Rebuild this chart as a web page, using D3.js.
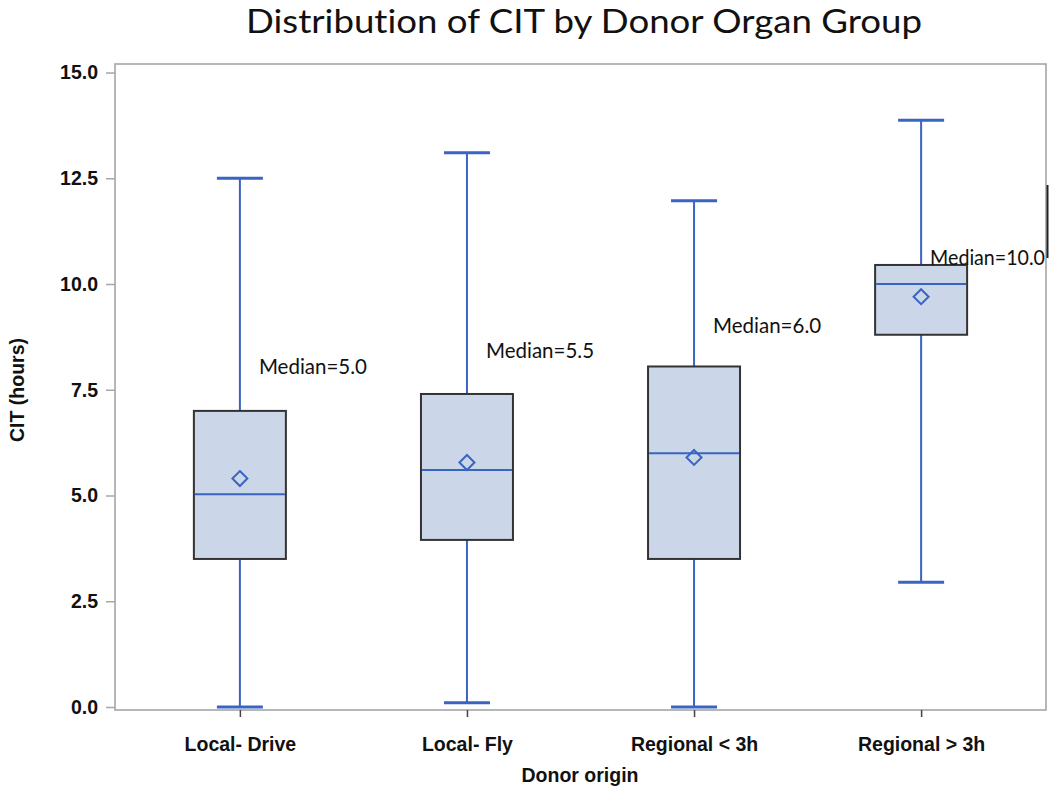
<!DOCTYPE html>
<html>
<head>
<meta charset="utf-8">
<script src="https://cdn.jsdelivr.net/npm/d3@7"></script>
<style>
  html, body { margin: 0; padding: 0; background: #fff; }
  svg { display: block; }
  text { font-variant-ligatures: none; font-feature-settings: "liga" 0; }
</style>
</head>
<body>
<svg id="chart" width="1050" height="791"></svg>
<script>
// ---- data ----
const categories = ["Local- Drive", "Local- Fly", "Regional < 3h", "Regional > 3h"];
const whiskerMin = [0.0, 0.1, 0.0, 2.95];
const q1Values = [3.5, 3.95, 3.5, 8.8];
const medianValues = [5.03, 5.6, 6.0, 10.0];
const q3Values = [7.0, 7.4, 8.05, 10.45];
const whiskerMax = [12.5, 13.1, 11.97, 13.87];
const meanValues = [5.4, 5.78, 5.9, 9.7];
const medianLabels = ["Median=5.0", "Median=5.5", "Median=6.0", "Median=10.0"];
const labelYValues = [8.06, 8.44, 9.03, 10.64];
const yTicks = [0, 2.5, 5, 7.5, 10, 12.5, 15];

const title = "Distribution of CIT by Donor Organ Group";
const xTitle = "Donor origin";
const yTitle = "CIT (hours)";

// ---- layout ----
const svg = d3.select("#chart");
const frame = { left: 115, right: 1046, top: 64, bottom: 710 };
const blue = "#3a64c2";
const axisFont = "'Liberation Sans Narrow', 'Liberation Sans', Arial, sans-serif";
const axisSize = 19.5;

const x = d3.scalePoint().domain(categories).range([frame.left, frame.right]).padding(0.55);
const y = d3.scaleLinear().domain([0, 15]).range([707, 72.5]);

const boxW = 92, capW = 46;

// frame
svg.append("rect")
  .attr("x", frame.left).attr("y", frame.top)
  .attr("width", frame.right - frame.left).attr("height", frame.bottom - frame.top)
  .attr("fill", "none").attr("stroke", "#a3a7ab").attr("stroke-width", 1.6);

// y axis
const yAxis = svg.append("g")
  .attr("transform", `translate(${frame.left},0)`)
  .call(d3.axisLeft(y).tickValues(yTicks).tickFormat(d3.format(".1f")).tickSize(9).tickPadding(8));
yAxis.select(".domain").remove();
yAxis.selectAll(".tick line").attr("stroke", "#a3a7ab").attr("stroke-width", 1.5);
yAxis.selectAll(".tick text")
  .attr("font-family", axisFont)
  .attr("font-weight", "bold").attr("font-size", axisSize).attr("fill", "#111");

// x axis
const xAxis = svg.append("g")
  .attr("transform", `translate(0,${frame.bottom})`)
  .call(d3.axisBottom(x).tickSize(7).tickPadding(20));
xAxis.select(".domain").remove();
xAxis.selectAll(".tick line").attr("stroke", "#444").attr("stroke-width", 1.5);
xAxis.selectAll(".tick text")
  .attr("font-family", axisFont)
  .attr("font-weight", "bold").attr("font-size", axisSize).attr("fill", "#111");

// boxes
const data = categories.map((c, i) => ({
  c, min: whiskerMin[i], q1: q1Values[i], med: medianValues[i], q3: q3Values[i],
  max: whiskerMax[i], mean: meanValues[i], label: medianLabels[i], ly: labelYValues[i]
}));

const g = svg.append("g");
const box = g.selectAll("g.box").data(data).join("g").attr("class", "box");

// whiskers
box.append("line")
  .attr("x1", d => x(d.c)).attr("x2", d => x(d.c))
  .attr("y1", d => y(d.q3)).attr("y2", d => y(d.max))
  .attr("stroke", blue).attr("stroke-width", 2);
box.append("line")
  .attr("x1", d => x(d.c)).attr("x2", d => x(d.c))
  .attr("y1", d => y(d.q1)).attr("y2", d => y(d.min))
  .attr("stroke", blue).attr("stroke-width", 2);
// caps
box.append("line")
  .attr("x1", d => x(d.c) - capW / 2).attr("x2", d => x(d.c) + capW / 2)
  .attr("y1", d => y(d.max)).attr("y2", d => y(d.max))
  .attr("stroke", blue).attr("stroke-width", 3);
box.append("line")
  .attr("x1", d => x(d.c) - capW / 2).attr("x2", d => x(d.c) + capW / 2)
  .attr("y1", d => y(d.min)).attr("y2", d => y(d.min))
  .attr("stroke", blue).attr("stroke-width", 3);
// box
box.append("rect")
  .attr("x", d => x(d.c) - boxW / 2).attr("width", boxW)
  .attr("y", d => y(d.q3)).attr("height", d => y(d.q1) - y(d.q3))
  .attr("fill", "#cbd7e8").attr("stroke", "#333").attr("stroke-width", 2);
// median
box.append("line")
  .attr("x1", d => x(d.c) - boxW / 2 + 1).attr("x2", d => x(d.c) + boxW / 2 - 1)
  .attr("y1", d => y(d.med)).attr("y2", d => y(d.med))
  .attr("stroke", blue).attr("stroke-width", 2);
// mean diamond
box.append("path")
  .attr("d", d => {
    const cx = x(d.c), cy = y(d.mean), r = 7.5;
    return `M${cx},${cy - r}L${cx + r},${cy}L${cx},${cy + r}L${cx - r},${cy}Z`;
  })
  .attr("fill", "none").attr("stroke", blue).attr("stroke-width", 2);
// median labels (shifted left / compressed if they would run past the frame's right edge)
box.append("text")
  .attr("y", d => y(d.ly))
  .attr("dominant-baseline", "central")
  .attr("font-family", "Lato, 'Open Sans', sans-serif")
  .attr("font-size", 20.5).attr("fill", "#111")
  .text(d => d.label)
  .each(function(d) {
    const el = d3.select(this);
    const w = this.getComputedTextLength();
    const maxEnd = frame.right - 1;
    let lx = Math.min(x(d.c) + 19, maxEnd - w);
    if (lx < x(d.c) + 9) {
      lx = x(d.c) + 9;
      el.attr("textLength", maxEnd - lx).attr("lengthAdjust", "spacingAndGlyphs");
    }
    el.attr("x", lx);
  });

// right-edge artifact mark
svg.append("line")
  .attr("x1", 1047.5).attr("x2", 1047.5).attr("y1", 185).attr("y2", 258)
  .attr("stroke", "#222").attr("stroke-width", 2);

// titles
svg.append("text")
  .attr("x", 584).attr("y", 33)
  .attr("text-anchor", "middle")
  .attr("font-family", "Lato, 'Open Sans', sans-serif")
  .attr("font-size", 33).attr("fill", "#111")
  .attr("textLength", 676).attr("lengthAdjust", "spacingAndGlyphs")
  .text(title);

svg.append("text")
  .attr("x", 580).attr("y", 782)
  .attr("text-anchor", "middle")
  .attr("font-family", axisFont)
  .attr("font-weight", "bold").attr("font-size", axisSize).attr("fill", "#111")
  .text(xTitle);

svg.append("text")
  .attr("transform", `translate(24,390) rotate(-90)`)
  .attr("text-anchor", "middle")
  .attr("font-family", axisFont)
  .attr("font-weight", "bold").attr("font-size", axisSize).attr("fill", "#111")
  .text(yTitle);
</script>
</body>
</html>
